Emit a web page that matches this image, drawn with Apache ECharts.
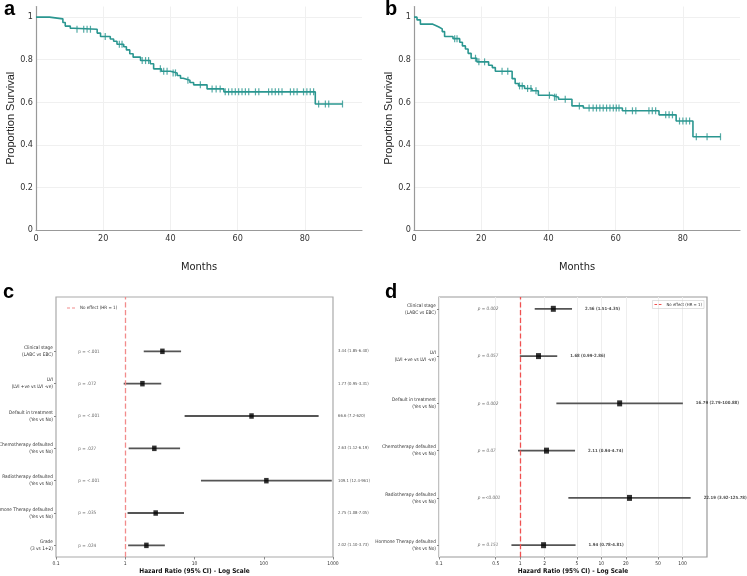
<!DOCTYPE html>
<html>
<head>
<meta charset="utf-8">
<script src="https://cdn.jsdelivr.net/npm/echarts@6/dist/echarts.min.js"></script>
<style>
html, body { margin: 0; padding: 0; background: #fff; }
#chart { width: 747px; height: 576px; }
</style>
</head>
<body>
<div id="chart"></div>
<script>
const NARROW = "'Liberation Sans Narrow', 'Arial Narrow', 'DejaVu Sans Condensed', 'Liberation Sans', sans-serif";
const SANS = "'Liberation Sans', Arial, sans-serif";
const TEAL = '#2a9690';

/* a - survival steps [month, proportion] */
const osSteps = [[0, 1.0], [4.0, 0.992], [8.0, 0.975], [8.7, 0.958], [10.2, 0.948], [11.2, 0.943],
    [18.2, 0.925], [19.2, 0.909], [22.1, 0.897], [23.1, 0.887], [24.1, 0.873], [26.1, 0.861],
    [26.9, 0.846], [27.9, 0.828], [28.9, 0.812], [31.1, 0.796], [34.0, 0.781], [35.0, 0.757],
    [37.3, 0.746], [40.0, 0.738], [42.0, 0.726], [43.0, 0.713], [43.8, 0.704], [45.8, 0.693],
    [46.9, 0.682], [50.9, 0.663], [55.9, 0.649], [83.1, 0.592]];
const osEnd = 91.2;
const osCensor = [12.2, 14.2, 15.2, 16.2, 20.6, 24.8, 25.6, 31.6, 32.6, 33.5, 37.0, 38.0, 39.0,
    40.8, 41.5, 45.2, 48.9, 52.4, 53.6, 54.8, 56.3, 57.3, 58.3, 59.3, 60.3, 61.3, 62.3, 63.3,
    65.3, 66.3, 69.2, 70.2, 71.2, 72.2, 73.2, 75.7, 76.7, 77.7, 79.6, 80.6, 81.6, 82.6, 84.1,
    86.1, 87.1, 91.2];

/* b - survival steps */
const dfsSteps = [[0, 1.0], [0.9, 0.987], [1.9, 0.967], [5.6, 0.96], [6.6, 0.954], [7.4, 0.945],
    [8.4, 0.932], [9.1, 0.909], [11.6, 0.899], [13.6, 0.882], [14.4, 0.865], [15.3, 0.85],
    [16.1, 0.83], [17.0, 0.807], [18.7, 0.79], [22.2, 0.774], [23.3, 0.763], [24.2, 0.746],
    [29.2, 0.711], [30.1, 0.688], [31.1, 0.677], [32.9, 0.665], [35.1, 0.654], [37.0, 0.633],
    [41.1, 0.624], [43.0, 0.614], [47.0, 0.583], [50.4, 0.573], [62.0, 0.56], [72.9, 0.541],
    [78.0, 0.512], [83.0, 0.438]];
const dfsEnd = 91.2;
const dfsCensor = [12.1, 12.8, 18.3, 19.3, 21.0, 26.2, 27.9, 31.4, 32.2, 33.8, 34.8, 36.3, 40.3,
    41.8, 42.3, 45.0, 49.2, 52.1, 53.3, 54.3, 55.3, 56.3, 57.3, 58.3, 59.3, 60.2, 61.0, 63.0,
    65.0, 66.0, 69.9, 70.9, 71.9, 74.9, 75.9, 76.9, 79.0, 80.0, 81.0, 82.0, 84.0, 87.2, 91.2];

/* c - univariate */
const uniLabels = ['Clinical stage\n(LABC vs EBC)', 'LVI\n(LVI +ve vs LVI -ve)', 'Default in treatment\n(Yes vs No)',
    'Chemotherapy defaulted\n(Yes vs No)', 'Radiotherapy defaulted\n(Yes vs No)',
    'Hormone Therapy defaulted\n(Yes vs No)', 'Grade\n(3 vs 1+2)'];
const uniHR = [3.44, 1.77, 66.6, 2.63, 109.1, 2.75, 2.02];
const uniLow = [1.85, 0.95, 7.2, 1.12, 12.4, 1.08, 1.10];
const uniHigh = [6.40, 3.31, 620, 6.19, 961, 7.05, 3.73];
const uniP = ['p = <.001', 'p = .072', 'p = <.001', 'p = .027', 'p = <.001', 'p = .035', 'p = .024'];
const uniCI = ['3.44 (1.85-6.40)', '1.77 (0.95-3.31)', '66.6 (7.2-620)', '2.63 (1.12-6.19)',
    '109.1 (12.4-961)', '2.75 (1.08-7.05)', '2.02 (1.10-3.73)'];

/* d - multivariate */
const multiLabels = ['Clinical stage\n(LABC vs EBC)', 'LVI\n(LVI +ve vs LVI -ve)', 'Default in treatment\n(Yes vs No)',
    'Chemotherapy defaulted\n(Yes vs No)', 'Radiotherapy defaulted\n(Yes vs No)',
    'Hormone Therapy defaulted\n(Yes vs No)'];
const multiHR = [2.56, 1.68, 16.79, 2.11, 22.19, 1.94];
const multiLow = [1.51, 0.99, 2.79, 0.94, 3.92, 0.78];
const multiHigh = [4.35, 2.86, 100.88, 4.74, 125.78, 4.81];
const multiP = ['p = 0.002', 'p = 0.057', 'p = 0.002', 'p = 0.07', 'p =<0.001', 'p = 0.151'];
const multiCI = ['2.56 (1.51-4.35)', '1.68 (0.99-2.86)', '16.79 (2.79-100.88)', '2.11 (0.94-4.74)',
    '22.19 (3.92-125.78)', '1.94 (0.78-4.81)'];
const multiTicks = [0.1, 0.5, 1, 2, 5, 10, 20, 50, 100];

const NO_EFFECT = 'No effect (HR = 1)';
const DASH_ICON = 'path://M0,0H3V1H0Z M5,0H8V1H5Z';

function survAt(steps, t) {
    let s = steps[0][1];
    steps.forEach(p => { if (p[0] <= t) s = p[1]; });
    return s;
}

function kmSeries(steps, end, censor, g) {
    return [{
        type: 'line', xAxisIndex: g, yAxisIndex: g, step: 'end', symbol: 'none', silent: true,
        data: steps.concat([[end, steps[steps.length - 1][1]]]),
        lineStyle: { color: TEAL, width: 1.6 }
    }, {
        type: 'scatter', xAxisIndex: g, yAxisIndex: g, silent: true,
        symbol: 'rect', symbolSize: [1.2, 7],
        data: censor.map(t => [t, survAt(steps, t)]),
        itemStyle: { color: TEAL }
    }];
}

function forestSeries(g, hr, lo, hi, pText, ciText, o) {
    const n = hr.length;
    const row = k => n - 1 - k;
    return [{
        type: 'custom', xAxisIndex: g, yAxisIndex: g, silent: true,
        data: hr.map((v, k) => [lo[k], hi[k], row(k)]),
        encode: { x: [0, 1], y: 2 },
        renderItem: (params, api) => {
            const y = api.value(2);
            const a = api.coord([api.value(0), y]);
            const b = api.coord([api.value(1), y]);
            return { type: 'line', shape: { x1: a[0], y1: a[1], x2: b[0], y2: b[1] },
                style: { stroke: '#555', lineWidth: 1.8 } };
        }
    }, {
        type: 'scatter', xAxisIndex: g, yAxisIndex: g, silent: true, z: 5,
        symbol: 'rect', symbolSize: o.markSize,
        data: hr.map((v, k) => [v, row(k)]),
        itemStyle: { color: '#000' }
    }, {
        type: 'scatter', xAxisIndex: g, yAxisIndex: g, silent: true, symbolSize: 0,
        data: pText.map((p, k) => ({ name: p, value: [o.pX, row(k)] })),
        label: { show: true, position: 'right', distance: 0, formatter: '{b}',
            fontSize: 4.6, color: '#444', fontFamily: NARROW, fontStyle: o.pItalic ? 'italic' : 'normal' }
    }, {
        type: 'scatter', xAxisIndex: g, yAxisIndex: g, silent: true, symbolSize: 0, clip: false,
        data: ciText.map((c, k) => ({ name: c, value: [o.ciAt(k), row(k)] })),
        label: { show: true, position: 'right', distance: o.ciGap, formatter: '{b}',
            fontSize: o.ciSize, color: '#222', fontFamily: NARROW, fontWeight: o.ciBold ? 'bold' : 'normal' }
    }, {
        type: 'line', name: NO_EFFECT, xAxisIndex: g, yAxisIndex: g, data: [], symbol: 'none',
        itemStyle: { color: o.red },
        lineStyle: { color: o.red, type: 'dashed', width: 1.2 },
        markLine: { silent: true, symbol: ['none', 'none'], label: { show: false },
            lineStyle: { color: o.red, type: 'dashed', width: 1.3 },
            data: [{ xAxis: 1 }] }
    }];
}

function kmAxes(g) {
    return {
        x: {
            gridIndex: g, type: 'value', min: 0, max: 97, interval: 20,
            axisLine: { lineStyle: { color: '#999', width: 1.2 } },
            axisTick: { show: false },
            axisLabel: { showMaxLabel: false, fontSize: 9, color: '#333', margin: 4, fontFamily: NARROW },
            splitLine: { show: true, showMaxLine: false, lineStyle: { color: '#f0f0f0' } },
            name: 'Months', nameLocation: 'middle', nameGap: 32,
            nameTextStyle: { fontSize: 11, color: '#222', fontFamily: NARROW }
        },
        y: {
            gridIndex: g, type: 'value', min: 0, max: 1.05, interval: 0.2,
            axisLine: { show: true, lineStyle: { color: '#999', width: 1.2 } },
            axisTick: { show: false },
            axisLabel: { showMaxLabel: false, fontSize: 9, color: '#333', margin: 3, fontFamily: NARROW },
            splitLine: { show: true, showMaxLine: false, lineStyle: { color: '#f0f0f0' } },
            name: 'Proportion Survival', nameLocation: 'middle', nameGap: 19,
            nameTextStyle: { fontSize: 11, color: '#222', fontFamily: SANS }
        }
    };
}

function forestX(g, max, ticks) {
    const ax = {
        gridIndex: g, type: 'log', logBase: 10, min: 0.1, max: max,
        axisLine: { show: false, onZero: false },
        axisTick: { show: true, length: 2.5, lineStyle: { color: '#888' } },
        axisLabel: { fontSize: 5, color: '#333', margin: 4, fontFamily: NARROW,
            formatter: v => String(+(+v).toPrecision(4)) },
        splitLine: { show: !!ticks, lineStyle: { color: '#eee' } },
        name: 'Hazard Ratio (95% CI) - Log Scale', nameLocation: 'middle', nameGap: 11,
        nameTextStyle: { fontSize: 6.5, fontWeight: 'bold', color: '#111', fontFamily: NARROW }
    };
    if (ticks) {
        ax.axisTick.customValues = ticks;
        ax.axisLabel.customValues = ticks;
    }
    return ax;
}

function forestY(g, labels, min, max) {
    const rows = labels.map((l, k) => k);
    return {
        gridIndex: g, type: 'value', min: min, max: max,
        axisLine: { show: false, onZero: false },
        axisTick: { show: true, length: 2, customValues: rows, lineStyle: { color: '#888' } },
        axisLabel: { customValues: rows, formatter: v => labels[labels.length - 1 - Math.round(v)],
            fontSize: 4.8, lineHeight: 7, color: '#333', margin: 3, fontFamily: NARROW, align: 'right' },
        splitLine: { show: false }
    };
}

const kmA = kmAxes(0), kmB = kmAxes(1);

let chart = echarts.init(document.getElementById('chart'));
chart.setOption({
    animation: false,
    backgroundColor: '#fff',
    title: [
        { text: 'a', left: 4, top: -1, padding: 0 },
        { text: 'b', left: 385, top: -1, padding: 0 },
        { text: 'c', left: 3, top: 282, padding: 0 },
        { text: 'd', left: 385, top: 282, padding: 0 }
    ].map(t => Object.assign(t, { textStyle: { fontSize: 20, fontWeight: 'bold', color: '#000', fontFamily: SANS } })),
    legend: [{
        left: 67, top: 305.5, padding: 0, selectedMode: false, itemWidth: 8, itemHeight: 1.4,
        textStyle: { fontSize: 4.5, color: '#333', fontFamily: NARROW },
        data: [{ name: NO_EFFECT, icon: DASH_ICON, itemStyle: { color: '#f28b8b' } }]
    }, {
        right: 43, top: 300.5, padding: [2, 2, 2, 2], selectedMode: false, itemWidth: 7, itemHeight: 1.4,
        borderColor: '#ccc', borderWidth: 0.6,
        textStyle: { fontSize: 4.3, color: '#333', fontFamily: NARROW },
        data: [{ name: NO_EFFECT, icon: DASH_ICON, itemStyle: { color: '#f05050' } }]
    }],
    grid: [
        { left: 36, top: 6.5, width: 326, height: 223.5, outerBoundsMode: 'none' },
        { left: 414, top: 6.5, width: 326, height: 223.5, outerBoundsMode: 'none' },
        { left: 56, top: 297, width: 277, height: 260, outerBoundsMode: 'none',
            show: true, borderColor: '#aaa', borderWidth: 1.2 },
        { left: 439, top: 297, width: 268, height: 260, outerBoundsMode: 'none',
            show: true, borderColor: '#999', borderWidth: 1.2 }
    ],
    xAxis: [kmA.x, kmB.x, forestX(2, 1000, null), forestX(3, 200, multiTicks)],
    yAxis: [kmA.y, kmB.y, forestY(2, uniLabels, -0.36, 7.68), forestY(3, multiLabels, -0.25, 5.25)],
    series: [].concat(
        kmSeries(osSteps, osEnd, osCensor, 0),
        kmSeries(dfsSteps, dfsEnd, dfsCensor, 1),
        forestSeries(2, uniHR, uniLow, uniHigh, uniP, uniCI, {
            markSize: [4.5, 5.5], pX: 0.21, pItalic: false, ciAt: () => 1000, ciGap: 5,
            ciSize: 4.2, ciBold: false, red: '#f28b8b'
        }),
        forestSeries(3, multiHR, multiLow, multiHigh, multiP, multiCI, {
            markSize: [5, 6], pX: 0.3, pItalic: true, ciAt: k => multiHigh[k], ciGap: 13,
            ciSize: 4.3, ciBold: true, red: '#f05050'
        })
    )
});
</script>
</body>
</html>
